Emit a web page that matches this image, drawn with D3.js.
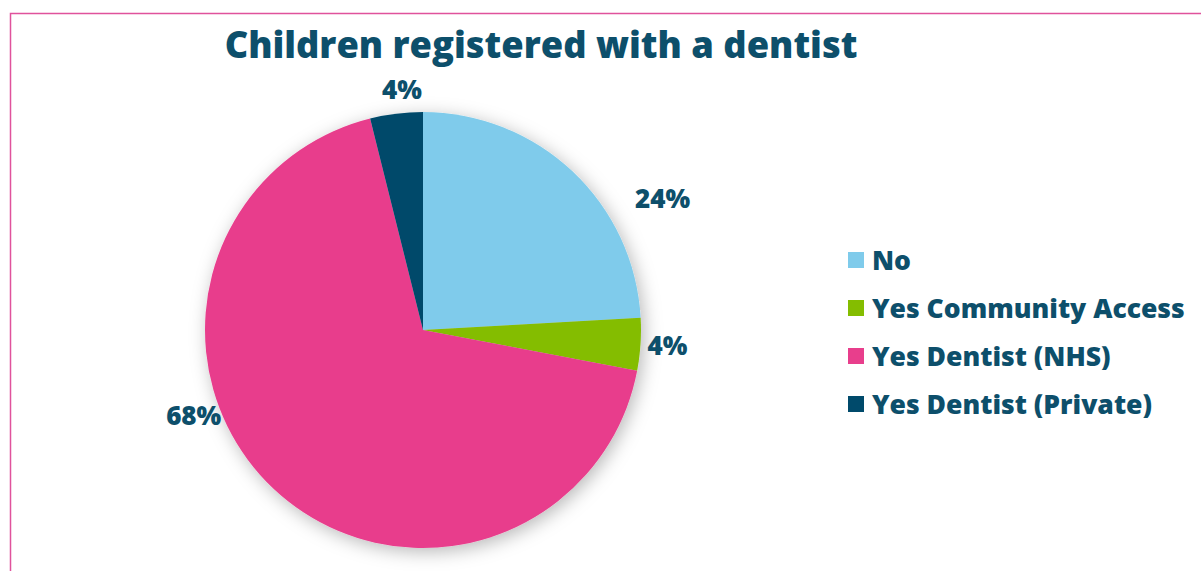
<!DOCTYPE html>
<html>
<head>
<meta charset="utf-8">
<script src="https://cdn.jsdelivr.net/npm/d3@7"></script>
<style>
  body { margin: 0; background: #fff; }
  svg { display: block; font-family: "Open Sans", sans-serif; font-weight: 800; }
</style>
</head>
<body>
<svg id="chart" width="1201" height="571"></svg>
<script>
// data
var categories = ["No", "Yes Community Access", "Yes Dentist (NHS)", "Yes Dentist (Private)"];
var values = [24.1, 3.9, 68.1, 3.9];
var labels = ["24%", "4%", "68%", "4%"];
var colors = ["#7fcbeb", "#84bd00", "#e83e8c", "#004a6b"];

var width = 1201,
  height = 571,
  cx = 423,
  cy = 330,
  radius = 218,
  textColor = "#0d4f6b";

// best-fit label placement shifts [degrees, extra radius], like the original
var labelNudge = [[18, 28], [0, 0], [26, 0], [2, -4]];

var svg = d3.select("#chart");

// frame
svg
  .append("rect")
  .attr("x", 10.5)
  .attr("y", 13.5)
  .attr("width", width + 20)
  .attr("height", height + 20)
  .attr("fill", "none")
  .attr("stroke", "#e0529c")
  .attr("stroke-width", 1.5);

var defs = svg.append("defs");
var f = defs
  .append("filter")
  .attr("id", "shadow")
  .attr("x", "-20%")
  .attr("y", "-20%")
  .attr("width", "140%")
  .attr("height", "140%");
f.append("feDropShadow")
  .attr("dx", 3)
  .attr("dy", 4)
  .attr("stdDeviation", 9)
  .attr("flood-color", "#000")
  .attr("flood-opacity", 0.28);

// title
var title = svg
  .append("text")
  .attr("x", 541)
  .attr("y", 58)
  .attr("text-anchor", "middle")
  .attr("fill", textColor)
  .style("font-size", "38px")
  .text("Children registered with a dentist");
var tw = title.node().getComputedTextLength();
title.style("font-size", (38 * 633) / tw + "px");

var pie = d3.pie().sort(null).value(function (d) {
  return d;
});
var arcs = pie(values);
var arc = d3.arc().innerRadius(0).outerRadius(radius);

var g = svg.append("g").attr("transform", "translate(" + cx + "," + cy + ")");

g.append("g")
  .attr("filter", "url(#shadow)")
  .selectAll("path")
  .data(arcs)
  .enter()
  .append("path")
  .attr("d", arc)
  .attr("fill", function (d, i) {
    return colors[i];
  });

// percentage labels
g.selectAll("text.lbl")
  .data(arcs)
  .enter()
  .append("text")
  .attr("class", "lbl")
  .attr("text-anchor", "middle")
  .attr("dy", "0.35em")
  .attr("fill", textColor)
  .style("font-size", "26px")
  .attr("transform", function (d, i) {
    var a = (d.startAngle + d.endAngle) / 2 + (labelNudge[i][0] * Math.PI) / 180;
    var r = radius + 27 + labelNudge[i][1];
    return "translate(" + r * Math.sin(a) + "," + -r * Math.cos(a) + ")";
  })
  .text(function (d, i) {
    return labels[i];
  });

// legend
var legend = svg
  .append("g")
  .attr("transform", "translate(848,260)")
  .selectAll("g")
  .data(categories)
  .enter()
  .append("g")
  .attr("transform", function (d, i) {
    return "translate(0," + i * 48 + ")";
  });
legend
  .append("rect")
  .attr("x", 0)
  .attr("y", -8)
  .attr("width", 16)
  .attr("height", 16)
  .attr("fill", function (d, i) {
    return colors[i];
  });
var ltext = legend
  .append("text")
  .attr("x", 24)
  .attr("dy", "0.36em")
  .attr("fill", textColor)
  .style("font-size", "24px")
  .text(function (d) {
    return d;
  });
var lw = ltext.nodes()[1].getComputedTextLength();
ltext.style("font-size", (24 * 313) / lw + "px");
</script>
</body>
</html>
